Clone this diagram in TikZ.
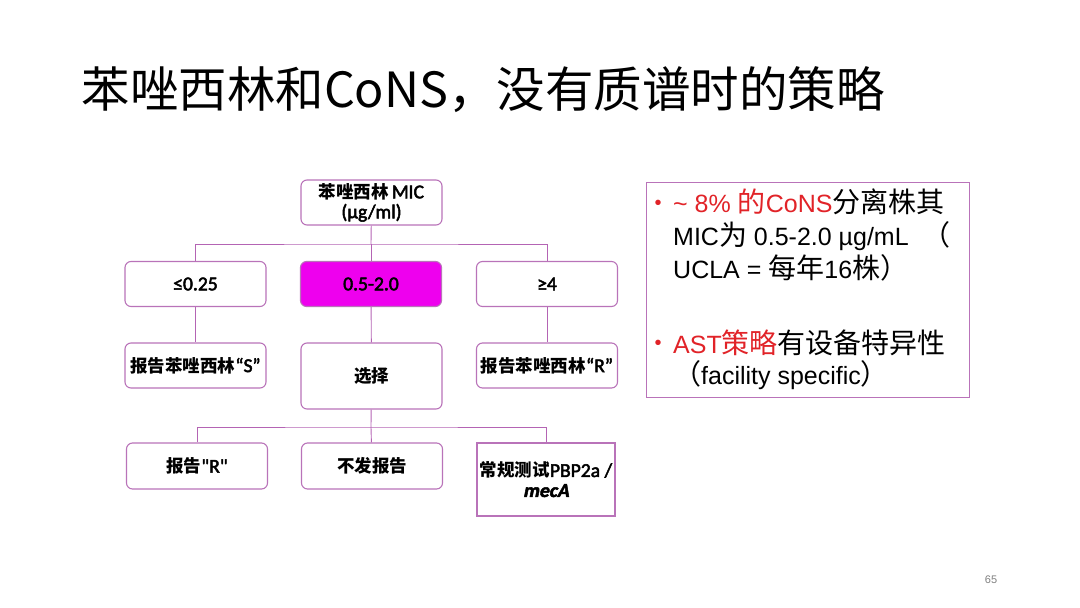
\documentclass[tikz,border=0pt]{standalone}
\usepackage{fontspec}
\setmainfont{Liberation Sans}
\newfontfamily\cjk{Noto Sans CJK SC}
\newfontfamily\cjknote[Scale=1.12]{Noto Sans CJK SC}
\newfontfamily\lat[Scale=1.12,AutoFakeBold=2.5]{Carlito}
\newfontfamily\latsl[Scale=1.12,FakeBold=2.5,FakeSlant=0.2]{Carlito}
\usepackage{tikz}
\usetikzlibrary{calc}
\usetikzlibrary{positioning}

\definecolor{boxline}{RGB}{185,115,185}
\definecolor{treeline}{RGB}{180,100,180}
\definecolor{hotpink}{RGB}{238,0,238}
\definecolor{slidered}{RGB}{225,35,40}
\newcommand{\zh}[1]{{\cjknote #1}}
\newcommand{\la}[1]{{\lat\bfseries #1}}

\begin{document}
\begin{tikzpicture}[x=1pt,y=-1pt,
    box/.style={draw=boxline,line width=1.1pt,rounded corners=6pt,fill=white,
        minimum width=141pt,minimum height=45pt,align=center,inner sep=1pt,
        font=\cjk\bfseries\fontsize{17.5}{20}\selectfont},
    tree/.style={draw=treeline,line width=0.9pt}]
    \useasboundingbox (0,0) rectangle (1080,608);

    % title
    \node[anchor=west,font=\cjk\fontsize{48.5}{52}\selectfont] (title) at (78,90) {苯唑西林和CoNS，没有质谱时的策略};

    % tree
    \node[box] (mic) at (371.5,202.5) {苯唑西林\,\la{MIC}\\\la{(µg/ml)}};
    \node[box] (lo) at (195.5,284) {\la{≤0.25}};
    \node[box,fill=hotpink] (mid) at (371,284) {\la{0.5-2.0}};
    \node[box] (hi) at (547,284) {\la{≥4}};
    \node[box] (repS) at (195.5,365.5) {报告苯唑西林\la{“S”}};
    \node[box,minimum height=66pt] (choose) at (371.5,376) {选择};
    \node[box] (repR) at (547,365.5) {报告苯唑西林\la{“R”}};
    \node[box,minimum height=46pt] (rptR) at (197,466) {报告\la{"R"}};
    \node[box,minimum height=46pt] (none) at (372,466) {不发报告};
    \node[box,rounded corners=0pt,minimum width=138pt,minimum height=73pt] (test) at (546,479.5) {常规测试\la{PBP2a /}\\{\latsl mecA}};

    \coordinate (fork1) at (371,244);
    \coordinate (fork2) at (371,427);

    \draw[tree] (mic) -- (fork1);
    \draw[tree] (lo.north) |- (fork1) -| (hi.north);
    \draw[tree] (fork1) -- (mid);
    \draw[tree] (lo) -- (repS);
    \draw[tree] (mid) -- (choose);
    \draw[tree] (hi) -- (repR);
    \draw[tree] (choose) -- (fork2);
    \draw[tree] (rptR.north) |- (fork2) -| (test.north);
    \draw[tree] (fork2) -- (none);

    % side note
    \node[draw=boxline,line width=1pt,minimum width=323pt,minimum height=215pt,anchor=north west] (note) at (645.5,182) {};
    \node[anchor=north west,align=left,inner sep=0pt,font=\fontsize{25}{33}\selectfont] (noteA) at (673,189)
        {\textcolor{slidered}{\textasciitilde\ 8\% \zh{的}CoNS}\zh{分离株其}\\MIC\zh{为} 0.5-2.0 µg/mL \ \zh{（}\\UCLA = \zh{每年}16\zh{株）}};
    \node[anchor=north west,align=left,inner sep=0pt,font=\fontsize{25}{31}\selectfont] (noteB) at (673,330)
        {\textcolor{slidered}{AST\zh{策略}}\zh{有设备特异性}\\\zh{（}facility specific\zh{）}};
    \node[text=slidered,font=\fontsize{20}{24}\selectfont] (dotA) at (658,205) {•};
    \node[text=slidered,font=\fontsize{20}{24}\selectfont] (dotB) at (658,345) {•};

    % page number
    \node[text=gray,font=\fontsize{11}{13}\selectfont] (page) at (991,580) {65};
\end{tikzpicture}
\end{document}
